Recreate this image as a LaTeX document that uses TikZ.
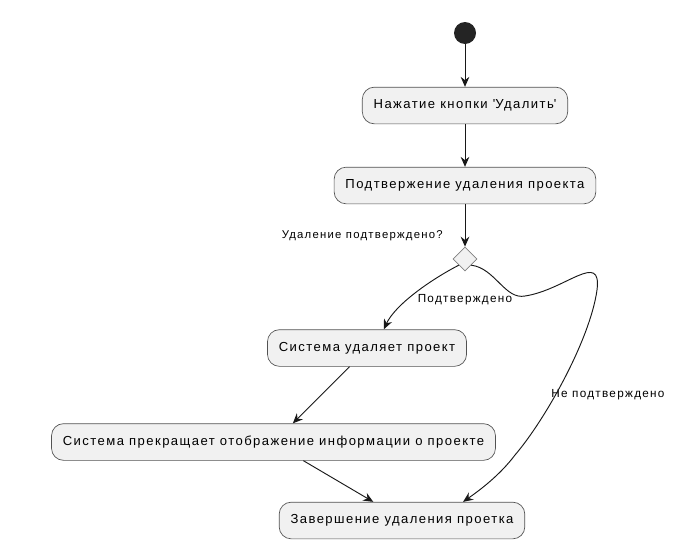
\documentclass[tikz,border=0pt]{standalone}
\usepackage{fontspec}
\setmainfont[LetterSpace=11]{Liberation Sans}
\usetikzlibrary{arrows.meta, shapes.geometric}
\definecolor{boxfill}{HTML}{F1F1F1}
\definecolor{boxline}{HTML}{181818}
\begin{document}
\begin{tikzpicture}[x=0.75pt, y=-0.75pt, >={Stealth[length=7.5pt, width=6.5pt, inset=2.5pt]},
    act/.style={draw=boxline!75, fill=boxfill, line width=0.5pt, rounded corners=9pt,
      minimum height=27.5pt, inner xsep=8.5pt, font=\fontsize{9.8}{11}\selectfont},
    lbl/.style={font=\fontsize{8.8}{10}\selectfont, inner sep=0pt},
    flow/.style={->, draw=boxline, line width=0.7pt}]
    \useasboundingbox (0,0) rectangle (677,550);

    \node[circle, fill=boxline!95, minimum size=16.5pt, inner sep=0pt] (start) at (465,33) {};
    \node[act] (press)   at (465,105.5) {Нажатие кнопки \textquotesingle Удалить\textquotesingle};
    \node[act] (confirm) at (465,185.5) {Подтвержение удаления проекта};
    \node[diamond, draw=black!50, fill=boxfill, line width=0.5pt, minimum size=18pt, inner sep=0pt] (choice) at (465,259) {};
    \node[act] (remove)  at (367,348) {Система удаляет проект};
    \node[act] (hide)    at (273.5,442) {Система прекращает отображение информации о проекте};
    \node[act] (finish)  at (402,520.5) {Завершение удаления проетка};

    \node[lbl, anchor=east] (question) at (443,236) {\fontsize{8.5}{10}\selectfont Удаление подтверждено?};
    \node[lbl] (yes) at (465,300) {Подтверждено};
    \node[lbl, anchor=west] (no) at (551,395) {Не подтверждено};

    \draw[flow] (start) -- (press);
    \draw[flow] (press) -- (confirm);
    \draw[flow] (confirm) -- (choice);
    \draw[flow] (choice.south west) .. controls (430,280) and (395,305) .. (remove.48);
    \draw[flow] (choice.south east) .. controls (495,268) and (505,300) .. (525,296)
        .. controls (565,290) and (602,250) .. (597,290)
        .. controls (590,340) and (545,420) .. (515,455)
        .. controls (500,475) and (480,490) .. (finish.17);
    \draw[flow] (remove.-133) -- (hide.44);
    \draw[flow] (hide.-32) -- (finish.147);
\end{tikzpicture}
\end{document}
